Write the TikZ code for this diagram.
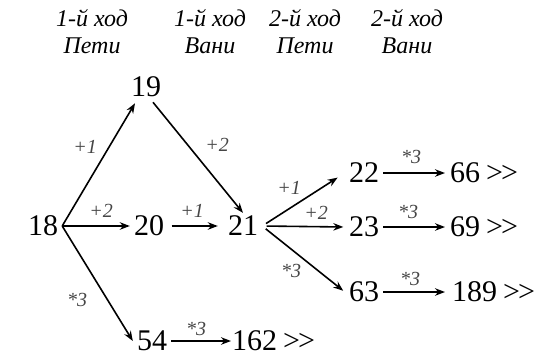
\documentclass[tikz,border=0pt]{standalone}
\usepackage{fontspec}
\setmainfont{Liberation Serif}
\usetikzlibrary{arrows.meta,calc}
\definecolor{labgray}{RGB}{70,70,70}
\newcommand{\gtgt}{\kern6pt>\kern-2pt>}
\tikzset{
  num/.style={font=\fontsize{30}{30}\selectfont, inner xsep=4pt, inner ysep=3pt},
  rt/.style={font=\fontsize{30}{30}\selectfont, inner sep=0pt, anchor=west},
  lab/.style={font=\fontsize{20}{20}\selectfont\itshape, text=labgray, inner sep=0pt},
  hdr/.style={font=\fontsize{24}{27}\selectfont\itshape, align=center, inner sep=0pt},
  arr/.style={-{Stealth[length=10pt,width=7.5pt]}, line width=1.6pt},
}
\begin{document}
\begin{tikzpicture}[x=1pt,y=-1pt]
\useasboundingbox (0,0) rectangle (538,356);
% headers
\node[hdr] (h1) at (92,32) {1-й ход\\Пети};
\node[hdr] (h2) at (210,32) {1-й ход\\Вани};
\node[hdr] (h3) at (305,32) {2-й ход\\Пети};
\node[hdr] (h4) at (407,32) {2-й ход\\Вани};
% numbers
\node[num] (n18) at (43,226) {18};
\node[num] (n19) at (146,87) {19};
\node[num] (n20) at (149,226) {20};
\node[num] (n21) at (243,226) {21};
\node[num] (n54) at (152,341) {54};
\node[num] (n22) at (364,173) {22};
\node[num] (n23) at (364,227) {23};
\node[num] (n63) at (364,292) {63};
\node[rt] (n66) at (450,173) {66\gtgt};
\node[rt] (n69) at (450,227) {69\gtgt};
\node[rt] (n189) at (452,292) {189\gtgt};
\node[rt] (n162) at (232,341) {162\gtgt};
% arrows
\draw[arr] (n18.east) -- ($(n19.south)+(-11,3)$);
\draw[arr] ($(n19.south)+(7,2)$) -- (n21.north);
\draw[arr] (n18.east) -- (n20.west);
\draw[arr] (n18.east) -- (n54.west);
\draw[arr, shorten <=3.5pt, shorten >=6pt] (n20.east) -- (n21.west);
\draw[arr, shorten <=4.5pt, shorten >=8.5pt] (n21.east) -- (n22.west);
\draw[arr, shorten <=4.5pt, shorten >=1.5pt] (n21.east) -- (n23.west);
\draw[arr, shorten <=4.5pt, shorten >=2pt] (n21.east) -- (n63.west);
\draw[arr, shorten >=5pt] (n22.east) -- (n66.west);
\draw[arr, shorten >=5pt] (n23.east) -- (n69.west);
\draw[arr, shorten >=7pt] (n63.east) -- (n189.west);
\draw[arr, shorten >=1pt] (n54.east) -- (n162.west);
% labels
\node[lab] (l1) at (85,147) {+1};
\node[lab] (l2) at (101,211) {+2};
\node[lab] (l3) at (77,300) {*3};
\node[lab] (l4) at (217,145) {+2};
\node[lab] (l5) at (192,211) {+1};
\node[lab] (l6) at (196,329) {*3};
\node[lab] (l7) at (289,188) {+1};
\node[lab] (l8) at (316,213) {+2};
\node[lab] (l9) at (291,271) {*3};
\node[lab] (l10) at (411,157) {*3};
\node[lab] (l11) at (408,212) {*3};
\node[lab] (l12) at (410,279) {*3};
\end{tikzpicture}
\end{document}
